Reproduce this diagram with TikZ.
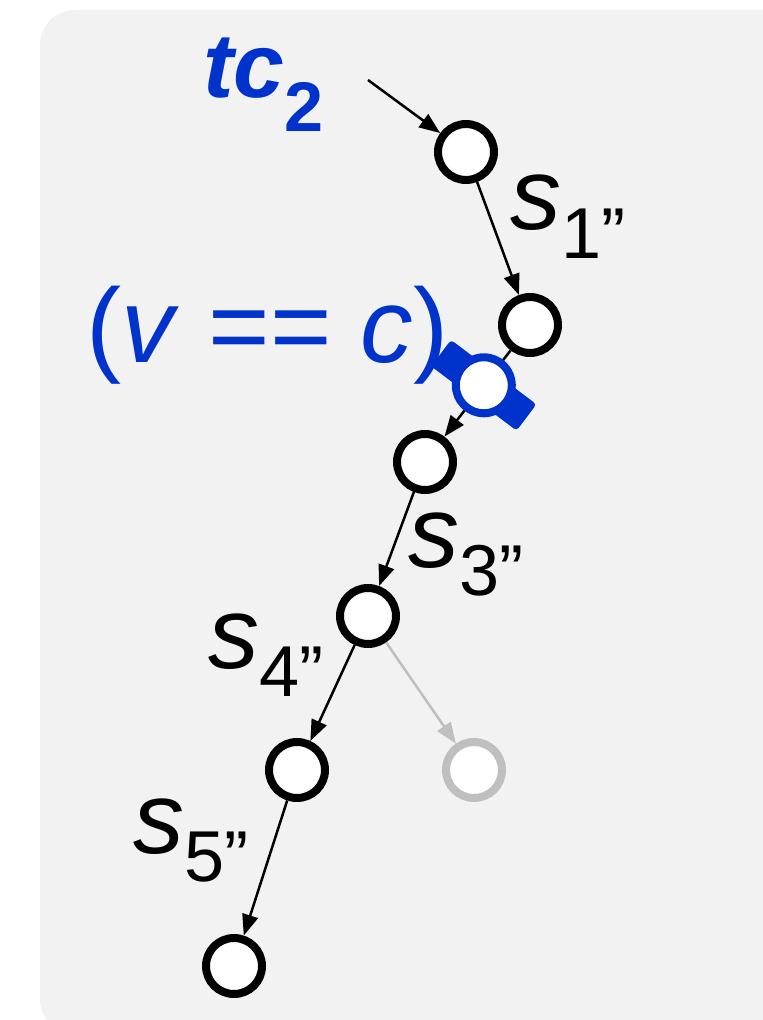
\documentclass[tikz,border=0pt]{standalone}
\usepackage{fontspec}
\setmainfont{Liberation Sans}
\usetikzlibrary{arrows.meta,calc}
\definecolor{chkblue}{RGB}{0,51,204}
\definecolor{panel}{RGB}{242,242,242}
\definecolor{offgray}{RGB}{191,191,191}
\newcommand{\slab}[1]{\fontsize{58}{60}\selectfont\textit{s}\raisebox{-16pt}{\fontsize{41}{43}\selectfont #1”}}

\begin{document}
\begin{tikzpicture}[x=0.02cm,y=0.02cm,
    state/.style={circle,draw,line width=0.16cm,fill=white,minimum size=1.12cm,inner sep=0pt},
    trans/.style={-{Triangle[length=0.42cm,width=0.32cm]},line width=0.05cm},
    lab/.style={anchor=base west,inner sep=0pt}]
        \useasboundingbox (0,0) rectangle (763,-1020);
        \fill[panel,rounded corners=0.7cm] (40,-10) rectangle (820,-1034);
        % states of the trace
        \node[state] (n1) at (466,-152) {};
        \node[state] (n2) at (530,-325) {};
        \node[state] (n3) at (425,-462) {};
        \node[state] (n4) at (368,-616) {};
        \node[state] (n5) at (297,-770) {};
        \node[state,draw=offgray] (n6) at (474,-770) {};
        \node[state] (n7) at (234,-966) {};
        \coordinate (start) at (368,-80);
        \draw[trans] (start) -- (n1);
        \foreach \a/\b in {n1/n2,n2/n3,n3/n4,n4/n5,n5/n7} \draw[trans] (\a) -- (\b);
        \draw[trans,offgray] (n4) -- (n6);
        % check point on the edge
        \node[fill=chkblue,rounded corners=2pt,minimum width=2.14cm,minimum height=0.66cm,rotate=-37] (bar) at ($(n2)!0.44!(n3)$) {};
        \node[state,draw=chkblue] (chk) at (bar) {};
        \node[lab,text=chkblue] (tc) at (203,-98) {\fontsize{52}{54}\selectfont\textbf{\textit{tc}}\raisebox{-19pt}{\fontsize{40}{42}\selectfont\textbf{2}}};
        \node[lab,text=chkblue] (guard) at (86,-362) {\fontsize{60}{62}\selectfont(\textit{v} == \textit{c})};
        \node[lab] (s1) at (510,-230) {\slab{1}};
        \node[lab] (s3) at (408,-567) {\slab{3}};
        \node[lab] (s4) at (208,-668) {\slab{4}};
        \node[lab] (s5) at (133,-853) {\slab{5}};
    \end{tikzpicture}
\end{document}
